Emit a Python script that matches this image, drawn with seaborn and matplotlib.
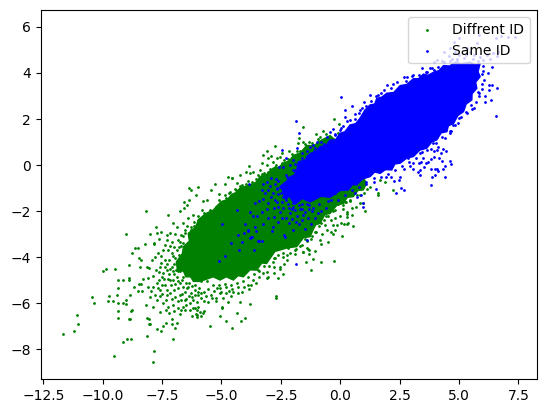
import numpy as np
import matplotlib
matplotlib.use("Agg")
import matplotlib.pyplot as plt
import seaborn as sns

labels = ["Diffrent ID", "Same ID"]

# outlines of the solid, fully overplotted part of each cloud
green_dense_outline = [
 (-6.9,-4.2),(-6.65,-3.85),(-6.6,-3.54),(-6.35,-3.3),(-6.4,-2.97),(-6.1,-2.7),(-5.95,-2.35),(-5.65,-2.1),
 (-5.34,-1.95),(-5.2,-1.78),(-5,-1.58),(-4.75,-1.5),(-4.57,-1.27),(-4.4,-1.2),(-4.22,-1.0),(-3.8,-0.86),
 (-3.55,-0.75),(-3.38,-0.5),(-3.1,-0.4),(-2.82,-0.13),(-2.6,-0.1),(-2.4,0.08),(-2.15,0.18),(-1.97,0.42),(-1.7,0.52),
 (-1.41,0.85),(-1.1,0.85),(-0.85,1.05),(-0.43,1.28),(0.5,0.5),(1.1,-0.8),(0.97,-1.08),(0.75,-1.1),(0.55,-1.37),
 (0.3,-1.4),(0.13,-1.66),(-0.15,-1.75),(-0.43,-2.1),(-0.65,-2.15),(-0.85,-2.53),(-1.05,-2.6),(-1.27,-3.11),
 (-1.55,-3.15),(-1.83,-3.54),(-2.25,-3.6),(-2.54,-3.69),(-2.75,-3.75),(-3.1,-4.27),(-3.3,-4.25),(-3.52,-4.56),
 (-3.8,-4.55),(-4.08,-4.85),(-4.3,-4.8),(-4.5,-4.99),(-4.8,-4.85),(-5.06,-4.99),(-5.35,-4.85),(-5.62,-4.95),
 (-5.9,-5.05),(-6.18,-5.05),(-6.3,-4.85),(-6.5,-4.85),(-6.6,-4.6),(-6.85,-4.6),
]
blue_dense_outline = [
 (-2.5,-0.9),(-2.3,-0.75),(-2.1,-0.5),(-1.95,-0.45),(-1.83,-0.21),(-1.76,0.15),(-1.5,0.2),(-1.27,0.51),(-1.05,0.55),
 (-0.85,0.8),(-0.6,0.85),(-0.43,1.09),(-0.2,1.1),(-0.01,1.38),(0.2,1.45),(0.41,1.74),(0.65,1.8),(0.83,2.03),(1.04,2.39),
 (1.25,2.61),(1.45,2.65),(1.54,2.9),(1.75,2.95),(1.96,3.12),(2.25,3.15),(2.52,3.45),(2.8,3.5),(3.08,3.75),(3.3,3.75),
 (3.5,3.95),(3.7,3.9),(3.93,4.03),(4.15,4.1),(4.35,4.32),(4.6,4.3),(4.84,4.47),(5.1,4.4),(5.47,4.47),(5.7,4.35),
 (5.89,4.42),(5.8,4.05),(5.89,3.84),(5.7,3.6),(5.75,3.33),(5.55,3.1),(5.54,2.83),(5.3,2.65),(5.19,2.32),(4.95,2.15),
 (4.77,1.81),(4.55,1.7),(4.49,1.45),(4.25,1.4),(4.06,1.09),(3.85,1.0),(3.64,0.73),(3.35,0.65),(3.08,0.37),(2.8,0.3),
 (2.52,0.08),(2.3,0.05),(2.17,-0.21),(1.9,-0.2),(1.68,-0.36),(1.45,-0.3),(1.26,-0.5),(0.95,-0.6),(0.69,-0.86),
 (0.5,-0.85),(0.34,-1.08),(0,-1.1),(-0.43,-1.4),(-0.8,-1.35),(-1.27,-1.6),(-1.6,-1.45),(-1.9,-1.7),(-2.15,-1.35),(-2.3,-1.5),
]

green_far_left = [
 (-11.66,-7.35),(-11.19,-7.22),(-11.03,-6.92),(-11.07,-6.53),(-10.44,-5.74),(-10.35,-6.0),
 (-9.97,-4.61),(-9.85,-4.53),(-9.47,-4.53),(-9.72,-5.70),(-9.76,-5.92),(-9.55,-5.92),
 (-9.38,-5.66),(-9.34,-6.0),(-9.34,-5.35),(-9.34,-5.01),(-9.13,-5.01),(-8.88,-4.92),
 (-8.88,-5.01),(-8.88,-4.35),(-9.0,-3.01),(-8.16,-2.01),(-9.51,-8.31),(-9.13,-7.70),
 (-8.96,-7.57),(-8.8,-7.57),(-7.87,-8.57),(-7.83,-8.05),(-8.12,-7.40),(-7.03,-7.53),
 (-7.7,-7.13),(-7.53,-7.22),(-7.45,-7.0),(-7.32,-6.87),(-7.07,-6.92),(-6.86,-6.87),
 (-6.94,-7.09),(-7.07,-6.70),(-8.04,-6.92),(-8.0,-6.92),(-8.12,-6.66),(-8.04,-6.70),
 (-8.88,-6.7),(-8.84,-6.7),(-9.34,-6.66),(-9.34,-6.35),(-8.8,-6.35),(-8.75,-6.27),
 (-9.13,-6.0),(-9.0,-6.05),(-9.0,-5.87),(-8.84,-5.66),(-8.67,-5.31),(-8.5,-5.48),
 (-8.33,-5.48),(-8.46,-5.18),(-8.37,-5.18),(-8.29,-4.96),(-8.08,-4.92),(-8.42,-4.44),
 (-8.46,-4.05),(-8.37,-4.14),(-8.75,-3.83),(-8.63,-3.62),(-8.5,-3.62),(-8.2,-3.44),
 (-7.83,-3.40),(-7.83,-3.44),(-8.0,-3.01),(-7.74,-2.70),(-7.62,-3.2),(-7.7,-2.96),
 (-7.53,-2.92),(-7.24,-2.18),(-7.03,-2.53),
 (-7.87,-5.28),(-7.73,-5.14),(-8.01,-5.72),(-7.8,-5.64),(-7.59,-5.43),(-7.38,-5.21),
 (-7.52,-4.85),(-7.31,-4.56),(-7.1,-4.41),(-7.38,-4.41),(-7.03,-4.99),(-6.89,-4.85),
 (-6.75,-5.14),(-7.17,-5.57),(-6.96,-5.71),(-6.75,-5.64),(-6.53,-5.5),(-7.73,-5.86),
 (-7.45,-6.0),(-7.24,-6.15),(-7.03,-6.08),(-6.82,-6.22),(-6.61,-6.15),(-6.32,-6.0),
 (-6.11,-6.22),(-5.9,-6.37),(-6.04,-6.51),(-5.76,-6.44),(-7.87,-6.15),(-8.18,-6.08),
 (-7.59,-6.37),(-7.33,-6.29),(-7.8,-3.98),(-7.94,-4.12),(-7.66,-3.83),(-7.38,-3.47),
 (-7.31,-3.25),(-7.1,-3.33),(-6.89,-3.69),(-7.1,-3.83),(-6.96,-4.05),(-7.38,-4.12),
 (-7.59,-4.41),(-8.05,-4.48),(-8.12,-4.41),(-6.75,-3.33),(-6.54,-2.96),(-6.89,-2.67),
 (-6.6,-2.53),(-6.4,-2.31),(-6.18,-2.17),(-5.83,-1.95),(-5.48,-2.1),(-5.62,-2.38),
 (-5.9,-2.6),(-6.3,-2.8),
 (-7.95,-5.45),(-7.66,-5.32),(-7.5,-5.6),(-7.28,-5.42),(-7.12,-5.2),(-6.98,-5.44),(-6.82,-5.32),(-6.6,-5.28),
 (-6.45,-5.35),(-6.3,-5.55),(-6.12,-5.42),(-5.95,-5.35),(-5.75,-5.5),(-5.55,-5.4),(-5.3,-5.48),(-5.05,-5.35),
 (-4.8,-5.3),(-4.55,-5.38),(-4.3,-5.3),(-4.05,-5.28),(-7.65,-4.65),(-7.45,-4.7),(-7.2,-4.75),(-7.05,-4.6),
 (-6.92,-4.55),(-6.98,-4.3),(-7.2,-4.1),(-7.55,-3.95),(-7.25,-3.7),(-7.0,-3.55),(-6.85,-3.25),(-6.72,-3.05),
 (-6.62,-3.4),(-7.15,-2.95),(-6.95,-3.0),(-7.45,-3.7),(-7.65,-5.0),(-7.9,-4.8),(-8.1,-5.3),(-7.2,-6.4),
 (-7.0,-6.35),(-6.75,-6.45),(-6.55,-5.85),(-6.2,-5.85),(-5.85,-5.75),(-5.65,-5.7),(-5.45,-5.62),(-6.85,-5.9),
 (-7.35,-5.85),(-6.1,-5.65),(-4.95,-5.75),(-4.6,-5.7),(-4.15,-5.5),(-3.9,-5.2),(-3.75,-5.2),(-3.25,-4.7),
 (-7.75,-4.55),(-7.55,-4.25),(-7.4,-4.95),(-7.25,-4.95),(-7.15,-5.0),(-6.95,-5.15),(-6.85,-5.05),(-6.65,-5.0),
 (-6.5,-5.12),(-6.4,-5.3),(-6.25,-5.25),(-6.0,-5.5),(-5.85,-5.55),(-5.2,-5.32),(-5.0,-5.5),(-4.7,-5.45),
 (-7.3,-4.3),(-7.15,-4.5),(-7.5,-5.2),(-7.3,-5.65),(-7.1,-5.8),(-6.7,-5.85),(-6.35,-5.7),(-7.6,-5.7),
 (-7.05,-3.95),(-7.15,-3.5),(-7.3,-3.05),(-6.8,-3.55),(-6.75,-4.6),(-7.0,-4.75),(-6.45,-2.65),(-6.15,-2.65),
 (-6.0,-2.4),(-5.75,-2.2),
]
green_top = [
 (-6.35,-1.01),(-6.27,-1.1),(-5.97,-0.97),(-6.06,-1.31),(-6.56,-1.62),(-6.35,-1.53),
 (-6.44,-1.75),(-6.56,-1.88),(-6.73,-2.01),(-5.76,-1.57),(-5.59,-1.53),(-5.43,-1.1),
 (-5.26,-0.82),(-4.71,-0.53),(-4.54,-0.57),(-4.84,-0.84),(-5.09,-1.27),
 (-1.55,1.64),(-2.73,0.81),(-3.07,0.6),(-3.24,0.42),(-3.28,0.08),(-3.83,-0.05),
 (-3.95,-0.31),(-4.54,-0.58),(-2.14,0.6),(-2.44,0.51),(-2.65,0.29),(-2.9,0.38),
 (-3.03,0.29),(-1.72,1.16),(-1.76,0.95),(-1.55,1.0),(-1.3,1.0),(-1.0,1.34),(-0.84,1.2),
 (-0.71,1.47),(-0.25,1.99),(-0.04,1.77),(-0.5,1.12),(-0.08,1.38),(-3.38,-0.21),
 (-3.66,-0.29),(-4.22,-0.43),(-4.36,-0.79),(-3.8,-0.36),(-3.1,-0.0),(-2.82,0.15),
 (-2.54,0.37),(-4.7,-1.2),(-4.45,-1.05),(-4.15,-0.85),(-3.9,-0.7),(-3.55,-0.6),
 (-3.3,-0.4),(-3.05,-0.3),(-2.75,-0.1),(-2.45,0.1),(-2.2,0.25),(-1.95,0.4),(-1.7,0.6),
 (-5.0,-1.6),(-5.25,-1.8),(-4.85,-1.3),
 (-6.8,-3.9),(-6.7,-3.5),(-6.6,-3.1),(-6.55,-2.8),(-6.3,-2.7),(-6.15,-2.45),(-6,-2.2),(-5.75,-2.1),
 (-5.5,-1.95),(-5.2,-1.8),(-5.1,-1.5),(-4.8,-1.45),(-4.65,-1.15),(-4.4,-1.1),(-4.2,-0.9),(-3.95,-0.8),
 (-3.7,-0.75),(-3.45,-0.45),(-3.2,-0.35),(-2.95,-0.15),(-2.7,0.0),(-2.35,0.2),(-2.05,0.5),(-1.8,0.6),
 (-1.5,0.9),(-1.2,0.95),(-0.95,1.15),(-0.6,1.35),
]
green_low = [
 (0.09,-3.09),(-0.25,-4.18),(-0.5,-3.36),(-0.8,-4.22),(-0.8,-3.44),(-0.84,-3.27),
 (-1.13,-4.09),(-1.22,-4.57),(-1.43,-4.22),(-1.05,-3.75),(-1.3,-3.88),(-1.55,-3.79),
 (-1.38,-3.62),(-1.3,-3.70),(-1.68,-3.53),(-1.89,-3.88),(-1.89,-3.70),(-2.23,-4.14),
 (-2.35,-4.31),(-2.4,-4.75),(-2.6,-4.92),(-2.77,-4.70),(-2.77,-4.44),(-2.52,-4.49),
 (-2.69,-5.70),(-2.69,-5.79),(-3.78,-6.05),(-4.2,-5.96),(-4.71,-5.96),(-4.96,-6.14),
 (-4.96,-6.22),(-4.33,-6.4),(-3.99,-6.66),(-4.16,-6.79),(-4.8,-6.79),(-5.05,-6.57),
 (-5.47,-7.0),(-4.54,-7.09),(-5.72,-6.35),(-5.85,-6.56),(-6.02,-6.61),(-6.23,-6.57),
 (-6.06,-6.48),(-5.97,-6.18),(-6.02,-6.27),(-6.18,-6.22),(-6.31,-6.31),(-6.53,-6.27),
 (-6.7,-6.27),(-6.48,-6.09),(-5.22,-5.92),(-5.55,-5.96),(-5.72,-5.92),(-6.02,-5.96),
 (-5.97,-5.66),(-6.25,-5.74),(-6.48,-5.83),(-6.65,-5.61),(-5.38,-5.79),(-5.22,-5.79),
 (-5.05,-5.57),(-4.8,-5.57),(-4.29,-5.57),(-3.83,-5.4),(-4.5,-5.5),(-3.53,-5.14),
 (-3.66,-4.99),(-3.4,-4.85),(-3.07,-4.92),(-3.03,-4.85),(-3.07,-4.63),(-3.45,-4.56),
 (-2.82,-4.2),(-2.53,-4.41),(-2.75,-4.05),(-2.25,-3.9),(-2.4,-3.97),
 (0.55,-2.66),(-1.34,-3.66),(-1.55,-3.79),(0.3,-2.57),(0.17,-2.57),(0.51,-2.18),
 (0.3,-2.05),(0.26,-1.62),(0.68,-1.84),(1.06,-2.01),(0.97,-1.66),(1.6,-1.23),(1.6,-1.31),
 (2.2,-1.1),(1.9,-0.75),(1.69,-0.66),(1.14,-1.05),(0.85,-1.31),(0.82,-1.66),(0.51,-1.88),
 (0.3,-2.14),(0.3,-2.27),(0.34,-2.53),(-0.12,-2.62),(-0.29,-3.01),(-0.54,-2.83),
 (-0.41,-2.92),(-0.2,-2.83),(-0.75,-3.01),(-0.7,-1.6),(-0.5,-1.8),(-0.3,-2),(-0.1,-1.7),
 (0.1,-1.9),(-0.6,-2.2),(-0.4,-2.4),(-0.2,-2.3),(0,-2.2),(-0.8,-2.5),(0.2,-1.6),
 (0.4,-1.5),(0.5,-1.3),(-0.65,-2.6),(-0.3,-2.6),(0.05,-2.5),(-1.0,-2.9),(-1.2,-3.1),
 (-1.5,-3.2),(-1.7,-3.1),(-2.0,-3.4),(-2.2,-3.6),(-1.1,-2.6),(-0.9,-2.2),(-1.4,-2.8),
 (-6.85,-4.6),(-6.6,-4.85),(-6.35,-5.1),(-6.1,-5.2),(-5.85,-5.05),(-5.6,-5.05),(-5.35,-5.2),(-5.1,-5.2),
 (-4.85,-5.15),(-4.6,-5.2),(-4.35,-5.1),(-4.1,-5.05),(-3.9,-4.85),(-3.65,-4.75),(-3.4,-4.6),(-3.2,-4.4),
 (-3,-4.4),(-2.8,-4.05),(-2.6,-3.9),(-2.4,-3.8),(-2.1,-3.8),(-1.85,-3.65),(-1.6,-3.45),(-1.4,-3.3),
 (-1.25,-3.2),(-1.05,-2.9),(-0.9,-2.65),(-0.7,-2.4),(-0.5,-2.2),(-0.2,-1.95),(0.1,-1.75),(0.4,-1.55),
 (0.7,-1.3),(1,-1.2),(1.25,-0.95),
]

blue_top = [
 (0.05,2.94),(-1.85,1.9),(-1.72,1.38),(-1.13,0.87),(-1.8,0.73),(-2.44,0.64),(-2.27,0.29),
 (-2.56,-0.1),(-2.39,-0.07),(-1.97,0.22),(-1.62,0.51),(-1.27,0.8),(-0.99,1.02),(-0.43,1.45),
 (-0.29,1.55),(-0.01,1.52),(0.2,2.39),(0.48,2.57),(0.2,2.1),(0.41,1.96),(0.83,2.39),
 (1.02,2.76),(1.25,3.04),(3.46,4.2),(3.08,3.9),(2.83,3.81),(2.7,3.81),(2.24,3.51),(1.95,3.46),
 (3.76,4.2),(3.93,4.13),(3.64,4.06),(1.5,3.0),(1.7,3.15),(0.6,2.2),(0.9,2.5),(-0.2,1.3),
 (0.1,1.7),(-0.7,0.9),(-1.4,0.4),(-1.1,0.6),
 (-2.6,-0.7),(-2.3,-0.45),(-2.0,-0.2),(-1.9,0.05),(-1.6,0.3),(-1.4,0.6),(-1.05,0.75),(-0.8,1.0),
 (-0.55,1.2),(-0.2,1.35),(0.05,1.6),(0.3,1.9),(0.6,2.0),(0.8,2.25),(1.1,2.55),(1.3,2.8),(1.6,3.05),
 (1.85,3.25),(2.15,3.35),(2.4,3.6),(2.75,3.65),(3.0,3.85),(3.3,3.9),(3.6,4.05),(3.85,4.2),(4.1,4.25),
 (4.3,4.5),(4.6,4.5),(4.9,4.6),
]
blue_tail = [
 (-3.83,-0.84),(-4.33,-1.97),(-3.24,-0.84),(-3.15,-1.23),(-3.24,-1.49),(-2.9,-1.4),(-2.65,-1.05),
 (-2.6,-1.27),(-2.23,-0.53),(-2.35,-0.79),(-2.18,-1.08),(-2.48,-1.23),(-3.57,-1.66),(-3.49,-2.21),
 (-3.28,-2.05),(-3.03,-2.31),(-2.77,-2.24),(-3.78,-2.05),(-3.66,-2.21),(-3.99,-2.57),(-4.29,-3.05),
 (-4.04,-2.96),(-3.87,-2.83),(-3.74,-3.14),(-3.57,-2.7),(-3.24,-2.57),(-2.86,-2.88),(-2.82,-2.7),
 (-2.44,-2.31),(-2.14,-2.53),(-1.72,-2.57),(-1.34,-2.31),(-1.55,-2.18),(-1.47,-2.78),(-4.58,-3.4),
 (-4.25,-3.7),(-4.12,-3.36),(-3.62,-3.7),(-3.45,-3.31),(-3.28,-3.31),(-1.38,-3.27),(-2.14,-1.88),
 (-1.97,-1.81),(-3.03,-1.66),(-4.96,-2.57),(-4.84,-3.96),(-5.09,-4.18),(-3.78,-3.18),(-3.7,-3.14),
 (-3.4,-3.31),(-3.87,-2.88),(-3.53,-2.88),(-2.35,-3.05),(-2.31,-3.14),(-2.0,-2.83),(-1.88,-4.31),
 (-2.0,-1.5),(-1.9,-1.2),(-2.1,-2.1),(-1.8,-2.2),(-1.7,-1.9),(-2.6,-1.8),(-2.45,-1.6),(-2.3,-1.5),
 (-1.85,-0.4),(-1.95,-0.2),(-2.1,0.0),(-1.6,-1.9),(-1.4,-1.7),(-1.2,-2.0),(-1.05,-2.3),(-0.8,-2.0),
 (-0.6,-1.85),(-0.4,-1.5),(-0.2,-1.2),
 (-2.75,-1.5),(-2.55,-0.95),(-2.7,-0.6),(-2.95,-0.9),(-3.05,-1.1),(-2.8,-1.85),(-2.55,-2.05),(-2.3,-2.3),
 (-2.05,-2.35),(-1.85,-2.45),(-1.6,-2.4),(-1.25,-2.55),(-0.95,-2.1),(-1.15,-1.85),
 (-2.65,-1.6),(-2.4,-1.85),(-2.2,-1.7),(-2.05,-1.9),(-1.9,-1.95),(-1.75,-1.75),(-1.5,-2.05),(-1.3,-1.9),
 (-2.85,-1.2),(-2.75,-0.8),(-2.9,-0.55),(-3.1,-0.75),(-3.3,-1.1),(-3.4,-1.55),(-3.1,-1.9),(-2.6,-2.45),
]
blue_right = [
 (3.84,-0.88),(2.7,-1.1),(2.57,-1.01),(2.36,-1.23),(4.39,-0.53),(3.88,-0.53),(4.0,-0.44),
 (3.37,-0.44),(3.29,-0.31),(3.37,-0.23),(3.84,-0.18),(4.0,-0.18),(4.09,-0.18),(4.13,-0.27),
 (4.34,-0.18),(4.39,-0.05),(4.64,0.16),(4.68,0.03),(4.3,0.16),(3.54,-0.1),(3.71,0.12),(3.63,0.08),
 (3.42,0.12),(3.33,0.08),(3.08,-0.18),(2.95,-0.05),(2.7,-0.18),(4.17,0.3),(3.96,0.34),(3.8,0.25),
 (3.96,0.6),(4.09,0.64),(4.26,0.51),(4.34,0.69),(4.47,0.6),(2.53,-0.53),(2.49,-0.66),(2.28,-0.71),
 (2.15,-0.53),(1.94,-0.53),(1.52,-1.05),(1.4,-0.75),(1.1,-0.83),(0.97,-1.83),(0.97,-1.66),
 (0.89,-1.31),(0.6,-1.23),(0.72,-1.4),(2.87,0.29),(3.08,0.08),(2.8,0.44),(3.36,0.51),(3.67,0.66),
 (3.92,0.95),(4.06,1.23),(4.65,1.48),(4.41,1.16),(4.13,0.8),(3.5,0.29),
 (6.54,2.12),(6.58,3.34),(6.37,3.46),(6.28,3.46),(6.28,3.25),(6.11,2.73),(6.33,2.81),(6.11,2.99),
 (6.2,3.98),(6.37,4.25),(6.03,4.07),(5.95,3.94),(5.86,3.12),(5.95,3.29),(5.78,3.16),(5.65,2.47),
 (5.53,2.42),(5.32,2.25),(5.02,2.03),(4.94,1.81),(4.73,1.74),(4.64,1.47),
 (6.0,4.3),(6.05,3.7),(5.95,3.5),(5.85,3.0),(5.7,2.75),(5.5,2.6),(5.3,2.3),(5.1,2.1),(4.85,1.75),
 (4.6,1.4),(4.3,1.2),(4.05,0.95),(3.8,0.7),(3.45,0.55),(3.2,0.3),(2.9,0.15),(2.6,-0.05),(2.3,-0.2),
 (2.0,-0.4),(1.7,-0.5),(1.4,-0.55),(1.1,-0.75),(0.8,-0.95),(0.5,-1.1),(0.2,-1.3),(-0.1,-1.5),
 (-0.5,-1.55),(-0.9,-1.7),(-1.3,-1.75),(-1.6,-1.7),(-2.0,-1.65),(-2.4,-1.4),(-2.65,-1.0),
]
blue_legend_zone = [
 (7.34,5.55),(7.08,5.58),(6.75,5.59),(6.54,5.51),(5.82,5.64),(5.02,5.51),(4.77,5.36),(4.6,5.1),
 (4.35,4.93),(4.09,4.57),(3.93,4.46),(6.66,4.9),(6.45,4.86),(6.17,4.78),(5.89,4.71),(5.61,4.78),
 (5.19,4.64),(4.91,4.57),(4.56,4.75),(4.35,4.46),(4.84,4.93),(5.33,5.07),(5.75,5.29),(5.47,4.93),
 (5.3,4.8),(5.0,4.8),(4.7,4.6),(5.6,4.6),(5.8,4.5),(6.0,4.55),(6.3,4.6),(6.6,4.75),
]

def xy(groups):
    pts = np.array([p for g in groups for p in g])
    return pts[:, 0], pts[:, 1]

fig = plt.figure(figsize=(5.46, 4.13), dpi=100)
ax = fig.add_axes([40.7/546, 1-379.3/413, (536.7-40.7)/546, (379.3-10.3)/413])

gx, gy = xy([green_far_left, green_top, green_low])
bx, by = xy([blue_top, blue_tail, blue_right, blue_legend_zone])
gox, goy = xy([green_dense_outline])
box, boy = xy([blue_dense_outline])

ax.fill(gox, goy, color="g", linewidth=1)
sns.scatterplot(x=gx, y=gy, s=1, color="g", edgecolor="face", linewidth=1.0, label=labels[0], ax=ax)
ax.fill(box, boy, color="b", linewidth=1)
sns.scatterplot(x=bx, y=by, s=1, color="b", edgecolor="face", linewidth=1.0, label=labels[1], ax=ax)

ax.set_xlim(-12.61, 8.27)
ax.set_ylim(-9.3, 6.72)
ax.set_xticks([-12.5, -10, -7.5, -5, -2.5, 0, 2.5, 5, 7.5])
ax.set_yticks([-8, -6, -4, -2, 0, 2, 4, 6])
ax.legend(loc="upper right")
fig.savefig("out.png", dpi=100)
